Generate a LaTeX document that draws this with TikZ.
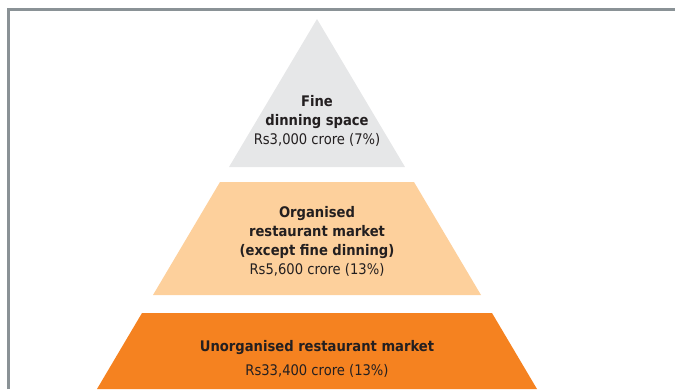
\documentclass[tikz,border=0pt]{standalone}
\usepackage{fontspec}
\setmainfont{DejaVu Sans Condensed}
\definecolor{framegray}{HTML}{8A9296}
\definecolor{tiergray}{HTML}{E6E7E8}
\definecolor{tierpeach}{HTML}{FDD09C}
\definecolor{tierorange}{HTML}{F58220}
\definecolor{inktext}{HTML}{231F20}
\begin{document}
\begin{tikzpicture}
    [x=1pt,y=-1pt,every node/.style={align=center,inner sep=0pt,text=inktext,
      font=\fontsize{14.6}{19}\selectfont}]
    \useasboundingbox (0,0) rectangle (675,389);
    % frame round the chart
    \draw[framegray,line width=3pt] (8,389) -- (8,9) -- (675,9);
    % the three tiers of the pyramid
    \fill[tiergray] (317,19) -- (405,167) -- (229,167) -- cycle;
    \fill[tierpeach] (220,182) -- (414,182) -- (481,295) -- (153,295) -- cycle;
    \fill[tierorange] (142,313) -- (492,313) -- (537,389) -- (97,389) -- cycle;
    \node (fine) at (317,120.5) {\textbf{Fine}\\\textbf{dinning space}\\Rs3,000 crore (7\%)};
    \node (organised) at (317,241) {\textbf{Organised}\\\textbf{restaurant market}\\
      \textbf{(except fine dinning)}\\Rs5,600 crore (13\%)};
    \node (unorganised) at (317,359) [font=\fontsize{14.6}{24}\selectfont]
      {\textbf{Unorganised restaurant market}\\Rs33,400 crore (13\%)};
\end{tikzpicture}
\end{document}
